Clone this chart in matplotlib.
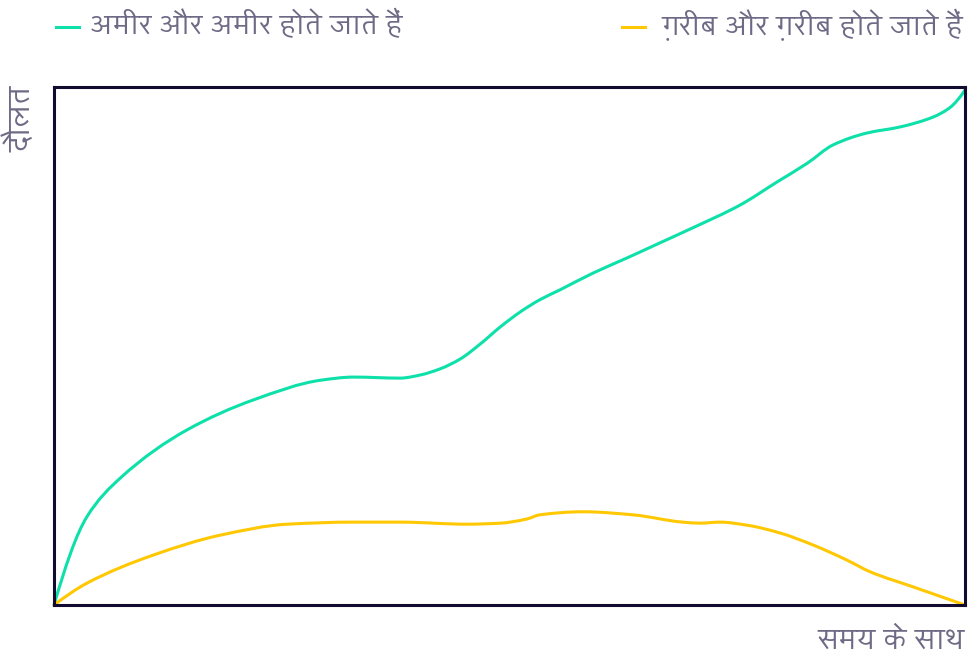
import matplotlib
matplotlib.use("Agg")
import numpy as np
import matplotlib.pyplot as plt
from matplotlib.lines import Line2D
from matplotlib.path import Path
from matplotlib.patches import PathPatch

# wealth over time, both axes scaled 0..100
rich_x = [0, 3.6, 7.4, 14.6, 21.9, 29.3, 32.9, 38.0, 40.2, 42.4, 44.6, 46.8, 49.0,
          51.2, 53.3, 55.5, 59.2, 62.9, 66.5, 70.1, 75.3, 79.4, 82.7, 85.5, 89.2,
          92.9, 96.5, 98.4, 100]
rich_y = [0, 17.0, 24.7, 33.8, 39.6, 43.4, 44.0, 43.8, 44.4, 45.6, 47.5, 50.4, 53.7,
          56.6, 58.9, 60.8, 64.1, 67.0, 69.9, 72.8, 77.2, 81.7, 85.3, 88.8, 91.1,
          92.3, 94.2, 96.1, 99.4]

poor_x = [0, 3.6, 11.0, 18.3, 25.6, 32.9, 38.0, 45.3, 49.0, 51.9, 53.3, 58.1, 63.6,
          69.0, 70.9, 73.1, 76.1, 79.7, 83.3, 87.0, 89.6, 94.3, 100]
poor_y = [0, 4.2, 9.7, 13.5, 15.6, 16.0, 16.0, 15.6, 15.8, 16.6, 17.4, 18.0, 17.4,
          16.0, 15.8, 16.0, 15.4, 13.9, 11.6, 8.7, 6.4, 3.5, 0]

rich_label = "अमीर और अमीर होते जाते हैं"
poor_label = "ग़रीब और ग़रीब होते जाते हैं"
x_label = "समय के साथ"
y_label = "दौलत"

GREEN = "#0de0a9"
YELLOW = "#ffc802"
TEXT = "#6e6a86"
FRAME = "#120a2f"

plt.rcParams["font.family"] = ["Khula", "Hind", "DejaVu Sans"]


def end_slope(h0, h1, d0, d1):
    # one-sided three point estimate, kept on the same side as the secant
    m = ((2 * h0 + h1) * d0 - h0 * d1) / (h0 + h1)
    if np.sign(m) != np.sign(d0):
        return 0.0
    if np.sign(d0) != np.sign(d1) and abs(m) > abs(3 * d0):
        return 3 * d0
    return m


def smooth_path(xs, ys):
    # monotone cubic (fritsch-carlson) through the points, drawn as bezier segments
    x = np.asarray(xs, float)
    y = np.asarray(ys, float)
    h = np.diff(x)
    d = np.diff(y) / h
    m = np.zeros_like(y)
    for i in range(1, len(x) - 1):
        if d[i - 1] * d[i] > 0:
            w1 = 2 * h[i] + h[i - 1]
            w2 = h[i] + 2 * h[i - 1]
            m[i] = (w1 + w2) / (w1 / d[i - 1] + w2 / d[i])
    m[0] = end_slope(h[0], h[1], d[0], d[1])
    m[-1] = end_slope(h[-1], h[-2], d[-1], d[-2])
    verts = [(x[0], y[0])]
    codes = [Path.MOVETO]
    for i in range(len(x) - 1):
        verts += [(x[i] + h[i] / 3, y[i] + m[i] * h[i] / 3),
                  (x[i + 1] - h[i] / 3, y[i + 1] - m[i + 1] * h[i] / 3),
                  (x[i + 1], y[i + 1])]
        codes += [Path.CURVE4] * 3
    return Path(verts, codes)


fig = plt.figure(figsize=(9.69, 6.59), dpi=100)
W, H = 969, 659
ax = fig.add_axes([54 / W, 1 - 605 / H, (965 - 54) / W, (605 - 87) / H])

for xs, ys, c in [(rich_x, rich_y, GREEN), (poor_x, poor_y, YELLOW)]:
    ax.add_patch(PathPatch(smooth_path(xs, ys), fill=False, edgecolor=c, lw=2.2,
                           capstyle="round", clip_on=False))

ax.set_xlim(0, 100)
ax.set_ylim(0, 100)
ax.set_xticks([])
ax.set_yticks([])
for s in ax.spines.values():
    s.set_color(FRAME)
    s.set_linewidth(2.2)
    s.set_zorder(3)

# legend drawn by hand across the top
fig.add_artist(Line2D([56 / W, 79 / W], [1 - 27 / H] * 2, color=GREEN, lw=2.2))
fig.text(90 / W, 1 - 25 / H, rich_label, color=TEXT, fontsize=20.3, va="center", ha="left")
fig.add_artist(Line2D([622 / W, 645 / W], [1 - 27 / H] * 2, color=YELLOW, lw=2.2))
fig.text(963 / W, 1 - 25 / H, poor_label, color=TEXT, fontsize=20.3, va="center", ha="right")

fig.text(22 / W, 1 - 86 / H, y_label, color=TEXT, fontsize=21.5, rotation=90,
         va="top", ha="center")
fig.text(965 / W, 1 - 642 / H, x_label, color=TEXT, fontsize=21, va="center", ha="right")

fig.savefig("out.png", dpi=100, facecolor="white")
